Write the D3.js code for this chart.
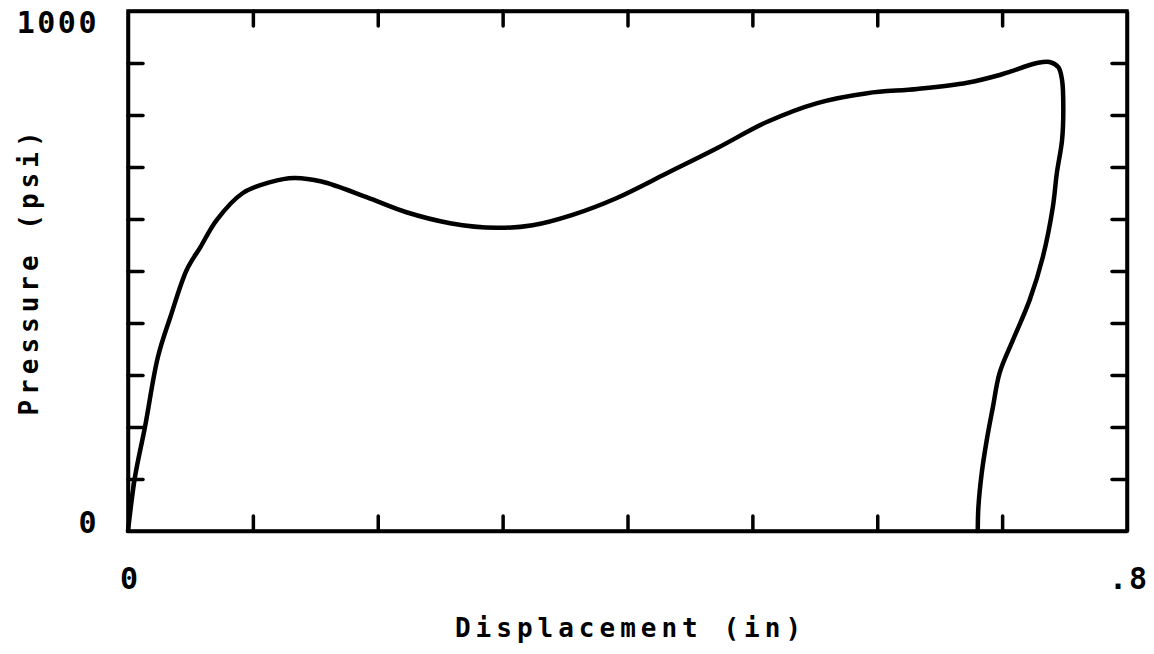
<!DOCTYPE html>
<html>
<head>
<meta charset="utf-8">
<script src="https://cdn.jsdelivr.net/npm/d3@7"></script>
<style>
  html, body { margin: 0; padding: 0; background: #fff; }
  svg { display: block; }
</style>
</head>
<body>
<svg id="chart" width="1154" height="654"></svg>
<script>
// ---- data ----
const xTicks = [0, 0.1, 0.2, 0.3, 0.4, 0.5, 0.6, 0.7, 0.8];
const yTicks = [0, 100, 200, 300, 400, 500, 600, 700, 800, 900, 1000];
const xTickLabels = [{v: 0, t: "0"}, {v: 0.8, t: ".8"}];
const yTickLabels = [{v: 0, t: "0"}, {v: 1000, t: "1000"}];
const xTitle = "Displacement (in)";
const yTitle = "Pressure (psi)";

// displacement (in), pressure (psi)
const curveX = [0, 0.0056, 0.0136, 0.024, 0.034, 0.047, 0.058, 0.071, 0.092, 0.114, 0.133,
  0.155, 0.191, 0.223, 0.258, 0.295, 0.324, 0.356, 0.391, 0.4315, 0.4716, 0.512, 0.552,
  0.592, 0.632, 0.672, 0.698, 0.706, 0.728, 0.738, 0.745, 0.748, 0.749, 0.748, 0.7438, 0.7406,
  0.7326, 0.722, 0.7086, 0.698, 0.6926, 0.6877, 0.6837, 0.681, 0.6805];
const curveP = [0, 104, 200, 335, 412, 502, 546, 598, 650, 671, 679,
  672, 642, 613, 592, 583, 588, 608, 640, 688, 736, 787, 823,
  842, 850, 862, 877, 883, 900, 902, 892, 867, 810, 752, 688, 623,
  527, 444, 367, 304, 238, 175, 112, 46, 0];
// faint secondary trace at the origin
const traceX = [0, 0.004];
const traceP = [0, 100];

// ---- drawing ----
const svg = d3.select("#chart");
svg.append("rect").attr("width", 1154).attr("height", 654).attr("fill", "#fff");

const x = d3.scaleLinear().domain([0, 0.8]).range([128, 1127]);
const y = d3.scaleLinear().domain([0, 1000]).range([531, 11]);

const fontFam = "'DejaVu Sans Mono', 'Liberation Mono', monospace";
const tickLen = 15;
const inner = v => v > 0 && v < 0.8 - 1e-9;

// axes with inward ticks on all four sides
const axB = d3.axisBottom(x).tickValues(xTicks.filter(inner)).tickSizeInner(-tickLen).tickSizeOuter(0).tickFormat("");
const axT = d3.axisTop(x).tickValues(xTicks.filter(inner)).tickSizeInner(-tickLen).tickSizeOuter(0).tickFormat("");
const yInner = yTicks.filter(v => v > 0 && v < 1000);
const axL = d3.axisLeft(y).tickValues(yInner).tickSizeInner(-tickLen).tickSizeOuter(0).tickFormat("");
const axR = d3.axisRight(y).tickValues(yInner).tickSizeInner(-tickLen).tickSizeOuter(0).tickFormat("");

function styleAxis(g) {
  g.selectAll("path").attr("stroke", "#000").attr("stroke-width", 3.5);
  g.selectAll("line").attr("stroke", "#000").attr("stroke-width", 3.5).attr("stroke-linecap", "round");
}
svg.append("g").attr("transform", `translate(0,${y(0)})`).call(axB).call(styleAxis);
svg.append("g").attr("transform", `translate(0,${y(1000)})`).call(axT).call(styleAxis);
svg.append("g").attr("transform", `translate(${x(0)},0)`).call(axL).call(styleAxis);
svg.append("g").attr("transform", `translate(${x(0.8)},0)`).call(axR).call(styleAxis);

// box corners
svg.append("rect")
  .attr("x", x(0)).attr("y", y(1000))
  .attr("width", x(0.8) - x(0)).attr("height", y(0) - y(1000))
  .attr("fill", "none").attr("stroke", "#000").attr("stroke-width", 3.5);

// curve
const pts = curveX.map((d, i) => [d, curveP[i]]);
const line = d3.line().x(d => x(d[0])).y(d => y(d[1])).curve(d3.curveCatmullRom.alpha(0.5));
svg.append("path").datum(pts)
  .attr("d", line).attr("fill", "none").attr("stroke", "#000")
  .attr("stroke-width", 4.5).attr("stroke-linejoin", "round").attr("stroke-linecap", "round");

const tpts = traceX.map((d, i) => [d, traceP[i]]);
svg.append("path").datum(tpts)
  .attr("d", d3.line().x(d => x(d[0])).y(d => y(d[1])))
  .attr("fill", "none").attr("stroke", "#000").attr("stroke-width", 1.8);

// tick labels
svg.selectAll("text.xl").data(xTickLabels).enter().append("text")
  .attr("x", d => x(d.v) + 2).attr("y", 589)
  .attr("text-anchor", "middle")
  .attr("font-family", fontFam).attr("font-weight", "bold").attr("font-size", 30)
  .attr("letter-spacing", 2)
  .text(d => d.t);

svg.selectAll("text.yl").data(yTickLabels).enter().append("text")
  .attr("x", 99)
  .attr("y", d => d.v === 1000 ? y(d.v) + 22 : y(d.v) + 2)
  .attr("text-anchor", "end")
  .attr("font-family", fontFam).attr("font-weight", "bold").attr("font-size", 30)
  .attr("letter-spacing", 2.5)
  .text(d => d.t);

// axis titles
svg.append("text")
  .attr("x", (x(0) + x(0.8)) / 2 + 3).attr("y", 637)
  .attr("text-anchor", "middle")
  .attr("font-family", fontFam).attr("font-weight", "bold").attr("font-size", 26)
  .attr("letter-spacing", 5)
  .text(xTitle);

svg.append("text")
  .attr("transform", `translate(38,${(y(0) + y(1000)) / 2}) rotate(-90)`)
  .attr("text-anchor", "middle")
  .attr("font-family", fontFam).attr("font-weight", "bold").attr("font-size", 26)
  .attr("letter-spacing", 5)
  .text(yTitle);
</script>
</body>
</html>
